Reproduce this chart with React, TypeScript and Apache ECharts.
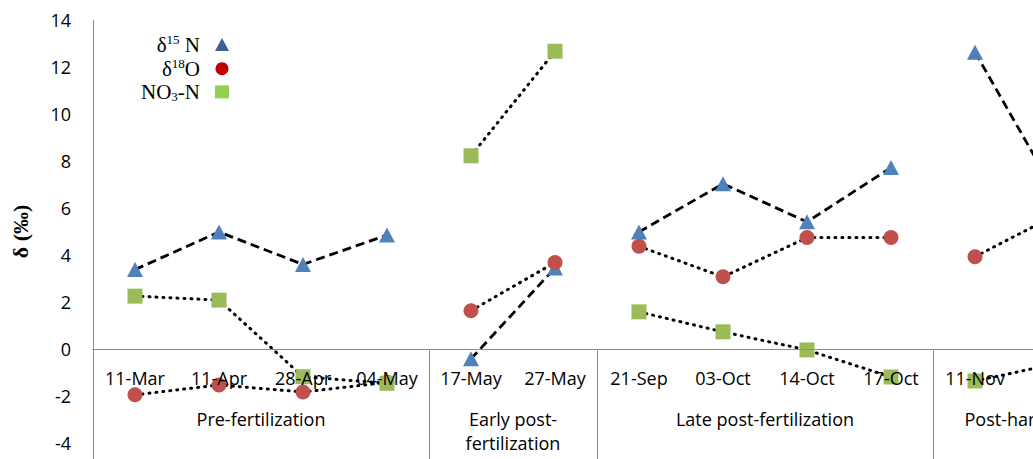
import React, { useEffect, useRef } from "react";
import * as echarts from "echarts";

const categories = ["11-Mar", "11-Apr", "28-Apr", "04-May", "17-May", "27-May", "21-Sep", "03-Oct", "14-Oct", "17-Oct", "11-Nov", ""];
const groupNames = ["Pre-fertilization", "Early post-\nfertilization", "Late post-fertilization", "Post-harvest"];
const groupStarts = [0, 4, 6, 10];
const groupEnds = [4, 6, 10, 12];

const d15N = [3.38, 4.98, 3.6, 4.85, -0.42, 3.45, 4.98, 7.03, 5.41, 7.72, 12.63, 6.38];
const d18O = [-1.95, -1.53, -1.83, -1.42, 1.63, 3.68, 4.37, 3.07, 4.74, 4.74, 3.93, 5.77];
const no3N = [2.25, 2.08, -1.18, -1.46, 8.22, 12.67, 1.58, 0.73, -0.04, -1.19, -1.36, -0.6];

const yTicks = { min: -4, max: 14, interval: 2 };

const AXIS_GRAY = "#8c8c8c";
const LABEL_FONT = "Open Sans";

export default function App() {
  const ref = useRef<HTMLDivElement>(null);

  useEffect(() => {
    document.body.style.margin = "0";
    if (!ref.current) return;
    const chart = echarts.init(ref.current, undefined, { renderer: "svg" });

    const gridTop = 20;
    const gridHeight = 423;
    const zeroY = gridTop + gridHeight * (yTicks.max / (yTicks.max - yTicks.min));
    const zeroOffset = gridTop + gridHeight - zeroY;

    const vars = [
      { name: "δ15N", values: d15N, symbol: "triangle", size: [16, 15], color: "#4F81BD", line: { type: [9, 5], width: 2.8, cap: "butt" } },
      { name: "δ18O", values: d18O, symbol: "circle", size: 15, color: "#C0504D", line: { type: [1, 6], width: 3, cap: "round" } },
      { name: "NO3-N", values: no3N, symbol: "rect", size: 15, color: "#9BBB59", line: { type: [1, 6], width: 3, cap: "round" } },
    ];

    const series: any[] = [];
    vars.forEach((v) => {
      groupStarts.forEach((s, gi) => {
        const e = groupEnds[gi];
        series.push({
          name: v.name,
          type: "line",
          z: 1,
          xAxisIndex: 0,
          yAxisIndex: 0,
          data: v.values.map((val, i) => (i >= s && i < e ? val : null)),
          symbol: v.symbol,
          symbolSize: v.size,
          showAllSymbol: true,
          itemStyle: { color: v.color, borderWidth: 0 },
          lineStyle: { color: "#000", width: v.line.width, type: v.line.type, cap: v.line.cap },
          connectNulls: false,
          emphasis: { disabled: true },
          clip: false,
        });
      });
    });

    const legendRich = {
      t: { fontFamily: "Liberation Serif", fontSize: 21, color: "#000", lineHeight: 23 },
      sup: { fontFamily: "Liberation Serif", fontSize: 13, color: "#000", lineHeight: 13, verticalAlign: "top" },
      sub: { fontFamily: "Liberation Serif", fontSize: 13, color: "#000", lineHeight: 13, verticalAlign: "bottom" },
      sp: { width: 10, lineHeight: 23 },
    };

    const legendFormat: Record<string, string> = {
      "δ15N": "{t|δ}{sup|15}{t| N}{sp| }",
      "δ18O": "{t|δ}{sup|18}{t|O}{sp| }",
      "NO3-N": "{t|NO}{sub|3}{t|-N}{sp| }",
    };

    chart.setOption({
      animation: false,
      backgroundColor: "#fff",
      grid: { left: 93, top: gridTop, width: 84 * categories.length, height: gridHeight, containLabel: false, outerBoundsMode: "none" },
      legend: {
        orient: "vertical",
        left: 136,
        top: 28,
        align: "right",
        itemWidth: 14,
        itemHeight: 13,
        itemGap: 2.2,
        selectedMode: false,
        data: [
          { name: "δ15N", icon: "triangle", itemStyle: { color: "#3B6091" } },
          { name: "δ18O", icon: "circle", itemStyle: { color: "#C00000" } },
          { name: "NO3-N", icon: "rect", itemStyle: { color: "#92D050" } },
        ],
        formatter: (name: string) => legendFormat[name] || name,
        textStyle: { rich: legendRich, fontFamily: "Liberation Serif", fontSize: 21, color: "#000" },
      },
      xAxis: [
        {
          type: "category",
          data: categories,
          boundaryGap: true,
          position: "bottom",
          offset: -zeroOffset,
          z: 5,
          axisLine: { show: true, onZero: false, lineStyle: { color: AXIS_GRAY, width: 1 } },
          axisTick: { show: false },
          splitLine: { show: false },
          axisLabel: { interval: 0, margin: 18, fontFamily: LABEL_FONT, fontSize: 18, lineHeight: 22, color: "#000" },
        },
        {
          type: "value",
          position: "top",
          min: 0,
          max: categories.length,
          axisLine: { show: false },
          splitLine: { show: false },
          axisTick: {
            show: true,
            inside: true,
            length: 439,
            customValues: groupStarts,
            lineStyle: { color: AXIS_GRAY, width: 1 },
          },
          axisLabel: {
            show: true,
            inside: true,
            margin: 387,
            verticalAlign: "top",
            lineHeight: 24,
            fontFamily: LABEL_FONT,
            fontSize: 18,
            color: "#000",
            customValues: groupStarts.map((s, i) => (s + groupEnds[i]) / 2),
            formatter: (val: number) => {
              const idx = groupStarts.findIndex((s, i) => Math.abs((s + groupEnds[i]) / 2 - val) < 1e-6);
              return idx >= 0 ? groupNames[idx] : "";
            },
          },
        },
      ],
      yAxis: {
        type: "value",
        min: yTicks.min,
        max: yTicks.max,
        interval: yTicks.interval,
        name: "δ (‰)",
        nameLocation: "middle",
        nameGap: 62,
        nameRotate: 90,
        nameTextStyle: { fontFamily: "Liberation Serif", fontWeight: "bold", fontSize: 22, color: "#000" },
        axisLine: { show: true, onZero: false, lineStyle: { color: AXIS_GRAY, width: 1 } },
        axisTick: { show: false },
        splitLine: { show: false },
        axisLabel: { margin: 22, fontFamily: LABEL_FONT, fontSize: 18, color: "#000" },
      },
      series,
    });

    return () => chart.dispose();
  }, []);

  return <div ref={ref} style={{ position: "absolute", left: 0, top: 0, width: 1033, height: 459 }} />;
}
